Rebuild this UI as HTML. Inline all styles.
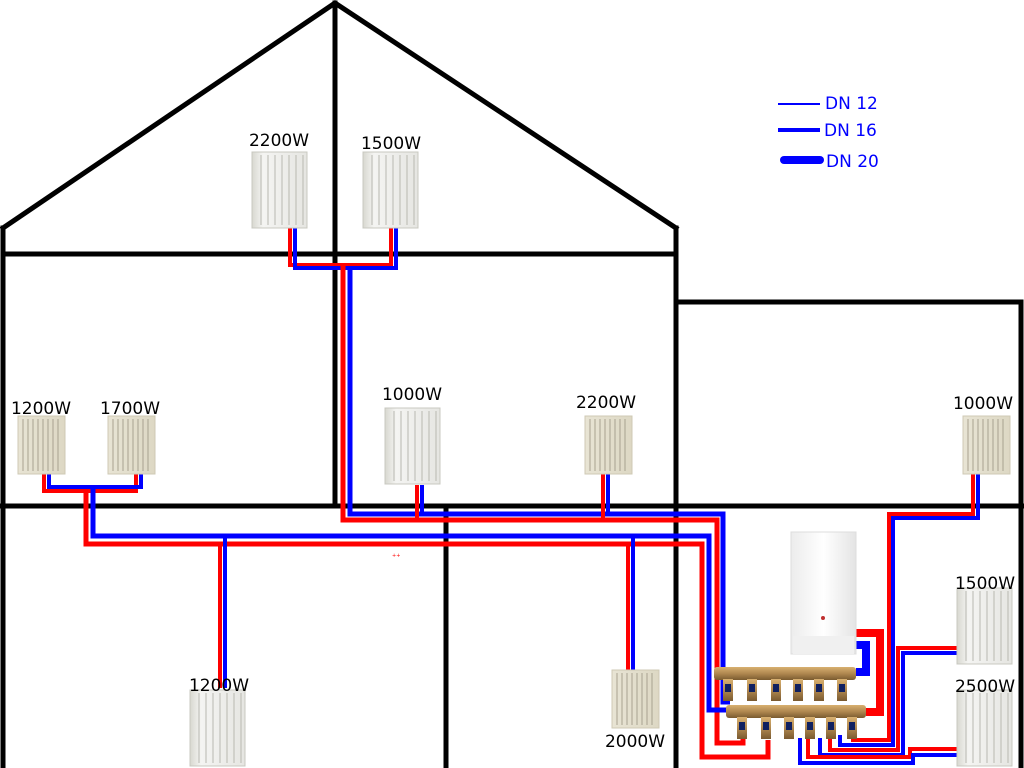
<!DOCTYPE html>
<html><head><meta charset="utf-8"><style>
html,body{margin:0;padding:0;background:#fff;}
svg{display:block;}
text{font-family:"DejaVu Sans","Liberation Sans",sans-serif;font-size:17px;fill:#000;}
</style></head><body>
<svg width="1024" height="768" viewBox="0 0 1024 768" xmlns="http://www.w3.org/2000/svg">
<defs>
<linearGradient id="wg" x1="0" x2="1"><stop offset="0" stop-color="#d8d8d0"/><stop offset="0.2" stop-color="#f4f4f2"/><stop offset="1" stop-color="#e6e6e2"/></linearGradient>
<linearGradient id="cg" x1="0" x2="1"><stop offset="0" stop-color="#e8e4d4"/><stop offset="1" stop-color="#ddd8c4"/></linearGradient>
<linearGradient id="bg" x1="0" x2="1"><stop offset="0" stop-color="#ececec"/><stop offset="0.5" stop-color="#ffffff"/><stop offset="1" stop-color="#e4e4e4"/></linearGradient>
<linearGradient id="brass" x1="0" y1="0" x2="0" y2="1"><stop offset="0" stop-color="#d8b070"/><stop offset="0.5" stop-color="#b08850"/><stop offset="1" stop-color="#7a5a30"/></linearGradient>
<g id="wr"><rect x="0" y="0" width="55" height="76" fill="url(#wg)" stroke="#c8c8c0" stroke-width="1"/>
<g stroke="#b8b8b0" stroke-width="1"><line x1="9" y1="3" x2="9" y2="73"/><line x1="16" y1="3" x2="16" y2="73"/><line x1="23" y1="3" x2="23" y2="73"/><line x1="30" y1="3" x2="30" y2="73"/><line x1="37" y1="3" x2="37" y2="73"/><line x1="44" y1="3" x2="44" y2="73"/><line x1="51" y1="3" x2="51" y2="73"/></g></g>
<g id="cr"><rect x="0" y="0" width="47" height="58" fill="url(#cg)" stroke="#cfc9b4" stroke-width="1"/>
<g stroke="#a8a290" stroke-width="1"><line x1="5" y1="3" x2="5" y2="55"/><line x1="10" y1="3" x2="10" y2="55"/><line x1="15" y1="3" x2="15" y2="55"/><line x1="20" y1="3" x2="20" y2="55"/><line x1="25" y1="3" x2="25" y2="55"/><line x1="30" y1="3" x2="30" y2="55"/><line x1="35" y1="3" x2="35" y2="55"/><line x1="40" y1="3" x2="40" y2="55"/></g></g>
<g id="valve"><rect x="-5" y="0" width="10" height="22" fill="url(#brass)"/><rect x="-3" y="5" width="6" height="8" fill="#102060"/></g>
</defs>

<g stroke="#000" stroke-width="5" fill="none" stroke-linecap="square">
<polyline points="3,228 335,3 676,228"/>
<line x1="3" y1="228" x2="3" y2="768"/>
<line x1="335" y1="3" x2="335" y2="506"/>
<line x1="3" y1="254" x2="676" y2="254"/>
<line x1="676" y1="228" x2="676" y2="768"/>
<line x1="676" y1="302" x2="1021" y2="302"/>
<line x1="1021" y1="302" x2="1021" y2="768"/>
<line x1="0" y1="506" x2="1024" y2="506"/>
<line x1="446" y1="506" x2="446" y2="768"/>
</g>

<g stroke="#0000ff" stroke-linecap="butt">
<line x1="778" y1="104" x2="820" y2="104" stroke-width="2"/>
<line x1="778" y1="130" x2="820" y2="130" stroke-width="4"/>
<line x1="784" y1="160" x2="820" y2="160" stroke-width="8" stroke-linecap="round"/>
</g>
<text x="825" y="109" style="fill:#0000ff">DN 12</text>
<text x="824" y="136" style="fill:#0000ff">DN 16</text>
<text x="826" y="167" style="fill:#0000ff">DN 20</text>

<g fill="none" stroke-width="4" stroke-linejoin="miter">
<polyline stroke="#ff0000" points="290,228 290,265 391,265 391,228"/>
<polyline stroke="#0000ff" points="295,228 295,268 396,268 396,228"/>
<polyline stroke="#ff0000" stroke-width="5" points="343,265 343,520 717,520 717,743 743,743 743,735"/>
<polyline stroke="#0000ff" stroke-width="5" points="350,268 350,514 723,514 723,702 730,702"/>
<polyline stroke="#ff0000" points="417,485 417,520"/>
<polyline stroke="#0000ff" points="422,485 422,514"/>
<polyline stroke="#ff0000" points="603,474 603,520"/>
<polyline stroke="#0000ff" points="608,474 608,514"/>
<polyline stroke="#ff0000" points="44,472 44,491 136,491 136,472"/>
<polyline stroke="#0000ff" points="49,472 49,487 141,487 141,472"/>
<polyline stroke="#ff0000" stroke-width="5" points="86,491 86,544 702,544 702,757 768,757 768,740"/>
<polyline stroke="#0000ff" stroke-width="5" points="93,487 93,536 709,536 709,710 730,710"/>
<polyline stroke="#ff0000" points="220,544 220,688"/>
<polyline stroke="#0000ff" points="225,536 225,688"/>
<polyline stroke="#ff0000" points="628,544 628,672"/>
<polyline stroke="#0000ff" points="633,536 633,672"/>
<polyline stroke="#ff0000" points="973,474 973,514 889,514 889,740 853,740 853,735"/>
<polyline stroke="#0000ff" points="978,474 978,518 893,518 893,745 840,745 840,735"/>
<polyline stroke="#ff0000" points="957,648 898,648 898,750 830,750 830,738"/>
<polyline stroke="#0000ff" points="957,653 903,653 903,755 820,755 820,738"/>
<polyline stroke="#ff0000" points="957,749 910,749 910,757 808,757 808,738"/>
<polyline stroke="#0000ff" points="957,755 913,755 913,763 800,763 800,738"/>
<polyline stroke="#ff0000" stroke-width="8" points="856,633 880,633 880,712 866,712"/>
<polyline stroke="#0000ff" stroke-width="8" points="856,645 866,645 866,672 856,672"/>
<polyline stroke="#0000ff" points="726,680 726,702"/>
</g>

<rect x="791" y="532" width="65" height="122" fill="url(#bg)" stroke="#ddd" stroke-width="1"/>
<rect x="793" y="636" width="61" height="18" fill="#f0f0f0"/>
<circle cx="823" cy="618" r="2" fill="#c03030"/>

<rect x="714" y="667" width="142" height="13" rx="3" fill="url(#brass)"/>
<rect x="726" y="705" width="140" height="13" rx="3" fill="url(#brass)"/>
<use href="#valve" x="728" y="679"/><use href="#valve" x="752" y="679"/><use href="#valve" x="776" y="679"/><use href="#valve" x="798" y="679"/><use href="#valve" x="819" y="679"/><use href="#valve" x="842" y="679"/>
<use href="#valve" x="742" y="717"/><use href="#valve" x="766" y="717"/><use href="#valve" x="789" y="717"/><use href="#valve" x="810" y="717"/><use href="#valve" x="831" y="717"/><use href="#valve" x="852" y="717"/>

<use href="#wr" x="252" y="152"/>
<use href="#wr" x="363" y="152"/>
<use href="#cr" x="18" y="416"/>
<use href="#cr" x="108" y="416"/>
<use href="#wr" x="385" y="408"/>
<use href="#cr" x="585" y="416"/>
<use href="#cr" x="963" y="416"/>
<use href="#wr" x="957" y="588"/>
<use href="#wr" x="957" y="690"/>
<use href="#wr" x="190" y="690"/>
<use href="#cr" x="612" y="670"/>

<g text-anchor="middle">
<text x="279" y="146">2200W</text>
<text x="391" y="149">1500W</text>
<text x="41" y="414">1200W</text>
<text x="130" y="414">1700W</text>
<text x="412" y="400">1000W</text>
<text x="606" y="408">2200W</text>
<text x="983" y="409">1000W</text>
<text x="985" y="589">1500W</text>
<text x="985" y="692">2500W</text>
<text x="219" y="691">1200W</text>
<text x="635" y="747">2000W</text>
</g>
<text x="392" y="557" style="font-size:5px;fill:#f00">++</text>
</svg>
</body></html>
